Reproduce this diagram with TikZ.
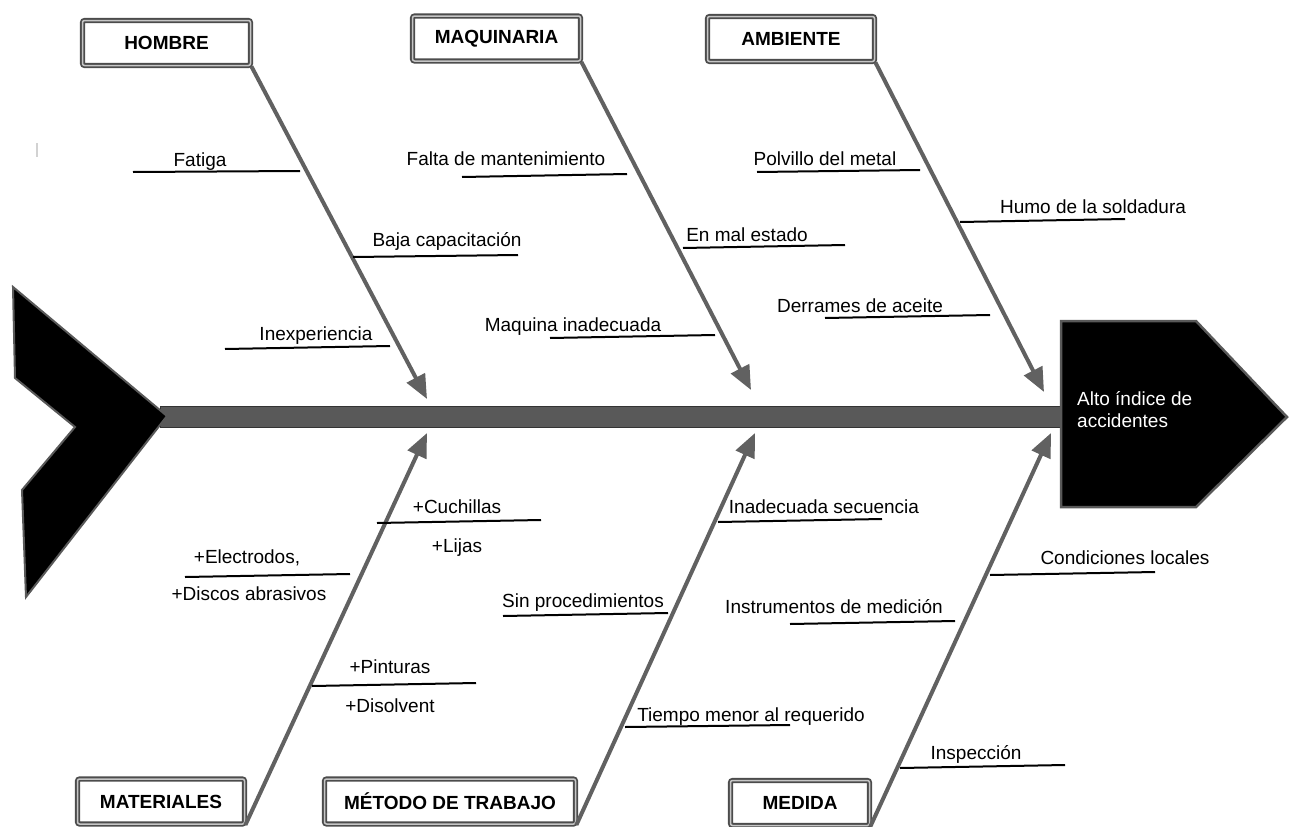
\documentclass[tikz,border=0pt]{standalone}
\usepackage{fontspec}
\setmainfont{Liberation Sans}
\usetikzlibrary{arrows.meta}
\begin{document}
\begin{tikzpicture}[x=1pt,y=-1pt,
  lbl/.style={font=\fontsize{19}{22}\selectfont, inner sep=0pt, anchor=base},
  catbox/.style={draw=black!70, line width=1.8pt, double=gray!45, double distance=1.5pt,
    rounded corners=2pt, fill=white, minimum width=#1, minimum height=45pt, inner sep=0pt,
    font=\fontsize{19}{22}\selectfont\bfseries},
  bone/.style={draw=black!62, line width=4pt, -{Triangle[length=24pt,width=20pt]}},
  sub/.style={draw=black, line width=2pt},
  headtxt/.style={font=\fontsize{19}{22}\selectfont, text=white, inner sep=0pt, anchor=base west},
]
\useasboundingbox (0,0) rectangle (1291,827);
% stray tick
\draw[gray!35, line width=1.5pt] (37,143) -- (37,157);
% spine
\draw[fill=black!65, draw=black!80, line width=1pt] (160,406) rectangle (1062,427);
% tail
\filldraw[fill=black, draw=black!65, line width=2pt] (13,287) -- (167,416) -- (26,597) -- (22,490) -- (75,427) -- (15,378) -- cycle;
% head
\filldraw[fill=black, draw=black!65, line width=2.5pt] (1061,321) -- (1196,321) -- (1287,417) -- (1196,507) -- (1061,507) -- cycle;
\node[headtxt] (head1) at (1077,405) {Alto índice de};
\node[headtxt] (head2) at (1077,427) {accidentes};

% category boxes
\node[catbox=168] (hombre) at (166.5,43) {HOMBRE};
\node[catbox=168] (maq) at (496.5,38.5) {MAQUINARIA};
\node[catbox=167] (amb) at (791,39) {AMBIENTE};
\node[catbox=167] (mat) at (161,801.5) {MATERIALES};
\node[catbox=251] (met) at (450,801.5) {MÉTODO DE TRABAJO};
\node[catbox=139] (med) at (800,803) {MEDIDA};

% bone tips
\coordinate (tH) at (427,399);
\coordinate (tQ) at (751,390);
\coordinate (tA) at (1044,392);
\coordinate (tM) at (427,433);
\coordinate (tT) at (755,433);
\coordinate (tD) at (1051,433);

\draw[bone] (hombre.south east) -- (tH);
\draw[bone] (maq.south east) -- (tQ);
\draw[bone] (amb.south east) -- (tA);
\draw[bone] (mat.south east) -- (tM);
\draw[bone] (met.south east) -- (tT);
\draw[bone] (med.south east) -- (tD);

% HOMBRE causes
\draw[sub] (133,172) -- (300,171);
\node[lbl] (c1) at (200,166) {Fatiga};
\draw[sub] (353,257) -- (518,255);
\node[lbl] (c2) at (447,246) {Baja capacitación};
\draw[sub] (225,349) -- (390,346);
\node[lbl] (c3) at (316,340) {Inexperiencia};

% MAQUINARIA causes
\draw[sub] (462,177) -- (627,174);
\node[lbl] (c4) at (506,165) {Falta de mantenimiento};
\draw[sub] (683,248) -- (845,245);
\node[lbl] (c5) at (747,241) {En mal estado};
\draw[sub] (550,338) -- (715,335);
\node[lbl] (c6) at (573,331) {Maquina inadecuada};

% AMBIENTE causes
\draw[sub] (757,172) -- (920,170);
\node[lbl] (c7) at (825,165) {Polvillo del metal};
\draw[sub] (960,222) -- (1125,219);
\node[lbl] (c8) at (1093,213) {Humo de la soldadura};
\draw[sub] (825,318) -- (990,315);
\node[lbl] (c9) at (860,312) {Derrames de aceite};

% MATERIALES causes
\draw[sub] (377,523) -- (541,520);
\node[lbl] (c10) at (457,513) {+Cuchillas};
\node[lbl] (c11) at (457,552) {+Lijas};
\draw[sub] (185,577) -- (350,574);
\node[lbl] (c12) at (247,563) {+Electrodos,};
\node[lbl] (c13) at (249,600) {+Discos abrasivos};
\draw[sub] (312,686) -- (476,683);
\node[lbl] (c14) at (390,673) {+Pinturas};
\node[lbl] (c15) at (390,712) {+Disolvent};

% METODO causes
\draw[sub] (718,522) -- (882,519);
\node[lbl] (c16) at (824,513) {Inadecuada secuencia};
\draw[sub] (503,616) -- (668,613);
\node[lbl] (c17) at (583,607) {Sin procedimientos};
\draw[sub] (625,727) -- (790,725);
\node[lbl] (c18) at (751,721) {Tiempo menor al requerido};

% MEDIDA causes
\draw[sub] (990,575) -- (1155,572);
\node[lbl] (c19) at (1125,564) {Condiciones locales};
\draw[sub] (790,624) -- (955,621);
\node[lbl] (c20) at (834,613) {Instrumentos de medición};
\draw[sub] (900,768) -- (1065,765);
\node[lbl] (c21) at (976,759) {Inspección};
\end{tikzpicture}
\end{document}
